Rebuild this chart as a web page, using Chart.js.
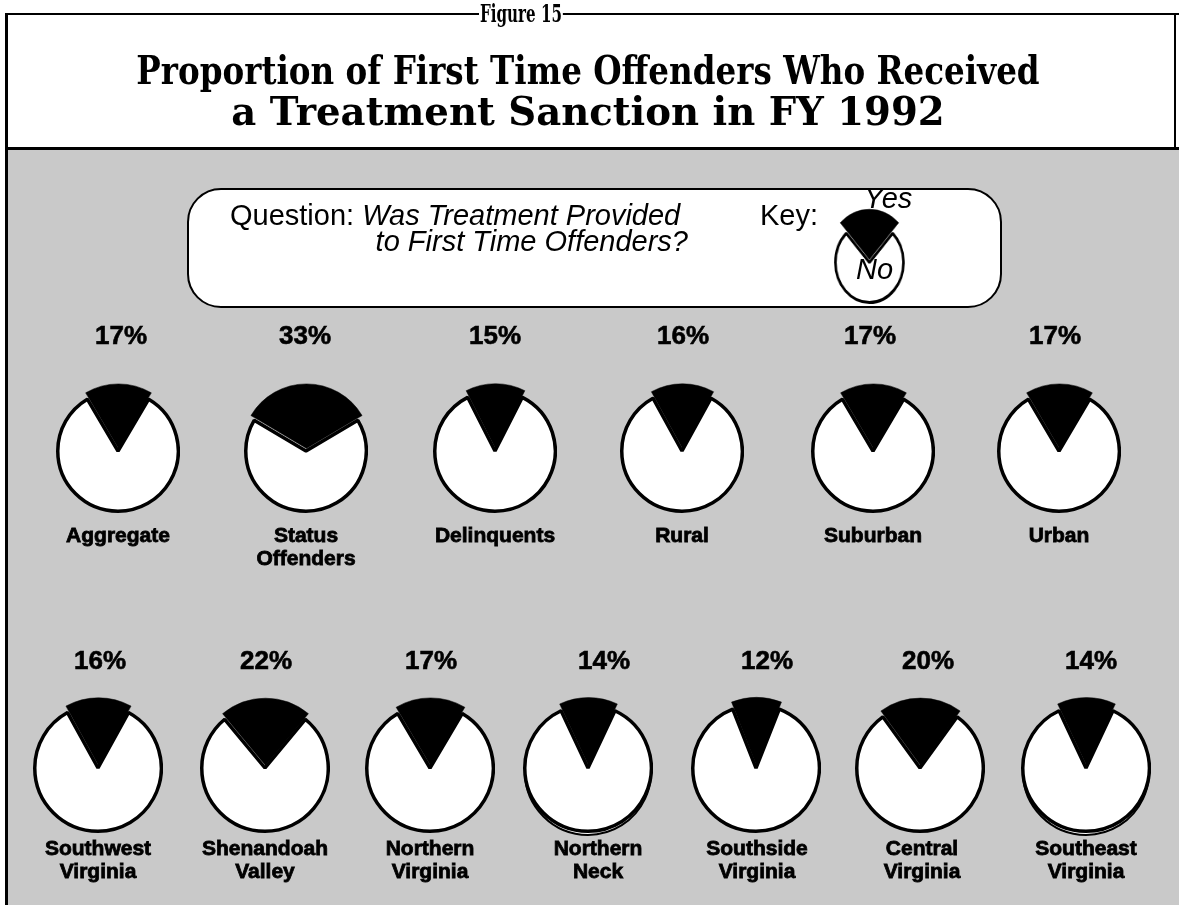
<!DOCTYPE html>
<html lang="en">
<head>
  <meta charset="UTF-8" />
  <title>Figure 15 - First Time Offenders Treatment Sanction</title>
  <script src="https://cdn.jsdelivr.net/npm/chart.js"></script>
  <style>
    body { margin: 0; background: #fff; }
    #page { position: relative; width: 1179px; height: 905px; overflow: hidden; background: #fff; }
    .abs { position: absolute; z-index: 5; }
    .line { position: absolute; background: #000; }
    .serif { font-family: "DejaVu Serif", "Liberation Serif", serif; font-weight: bold; white-space: nowrap; line-height: 1; }
    .sans { font-family: "Liberation Sans", Arial, sans-serif; white-space: nowrap; line-height: 1; font-size: 29px; }
    .lbl { font-family: "Liberation Sans", Arial, sans-serif; font-weight: bold; white-space: nowrap;
           line-height: 23px; text-align: center; color: #000; -webkit-text-stroke: 0.8px #000; }
    .pct { font-family: "Liberation Sans", Arial, sans-serif; font-weight: bold; white-space: nowrap;
           line-height: 1; font-size: 26px; -webkit-text-stroke: 0.6px #000; }
    #gray { position: absolute; left: 8px; top: 150px; right: 0; bottom: 0; background: #c9c9c9; }
    #qbox { position: absolute; left: 187px; top: 188px; width: 811px; height: 116px;
            border: 2.5px solid #000; border-radius: 34px; background: #fff; }
    #keyWrap { position: absolute; left: 0; top: 0; width: 1179px; height: 905px; transform-origin: 869px 262px;
               transform: scaleX(0.85); z-index: 2; }
  </style>
</head>
<body>
<div id="page">
  <!-- frame -->
  <div id="gray"></div>
  <div class="line" style="left:5px; top:13px; width:1174px; height:2px;"></div>
  <div class="line" style="left:5px; top:13px; width:3px; height:892px;"></div>
  <div class="line" style="left:1174px; top:13px; width:2px; height:136px;"></div>
  <div class="line" style="left:5px; top:147px; width:1174px; height:3px;"></div>

  <div class="abs serif fit" data-w="84" style="left:521px; top:1px; font-size:25px; background:#fff; padding:0 2px;">Figure 15</div>
  <div class="abs serif fit" data-w="903" style="left:588px; top:51px; font-size:39px;">Proportion of First Time Offenders Who Received</div>
  <div class="abs serif fit" data-w="713" style="left:588px; top:92px; font-size:39px;">a Treatment Sanction in FY 1992</div>

  <!-- question / key box -->
  <div id="qbox"></div>
  <div class="abs sans" style="left:230px; top:201px;">Question: <i>Was Treatment Provided</i></div>
  <div class="abs sans" style="right:491px; top:227px;"><i>to First Time Offenders?</i></div>
  <div class="abs sans" style="left:760px; top:201px;">Key:</div>
  <div class="abs sans" style="left:864px; top:184px;"><i>Yes</i></div>
  <div class="abs sans" style="left:856px; top:255px;"><i>No</i></div>
  <div id="keyWrap"></div>
</div>

<script>
  // values (percent that received treatment)
  const groupNames = [['Aggregate'], ['Status', 'Offenders'], ['Delinquents'], ['Rural'], ['Suburban'], ['Urban']];
  const groupYes = [17, 33, 15, 16, 17, 17];

  const regionNames = [['Southwest', 'Virginia'], ['Shenandoah', 'Valley'], ['Northern', 'Virginia'],
                       ['Northern', 'Neck'], ['Southside', 'Virginia'], ['Central', 'Virginia'], ['Southeast', 'Virginia']];
  const regionYes = [16, 22, 17, 14, 12, 20, 14];

  const keySample = [24, 76];
  const sliceLabels = ['Yes', 'No'];

  // layout
  const row1 = { x: [118, 306, 495, 682, 873, 1059], pctX: [121, 305, 495, 683, 870, 1055], y: 451, r: 60, pctY: 322, lblY: 523 };
  const row2 = { x: [98, 265, 430, 588, 756, 920, 1086], pctX: [100, 266, 431, 604, 767, 928, 1091],
                 lblX: [98, 265, 430, 598, 757, 922, 1086], y: 768, r: 63, pctY: 647, lblY: 836,
                 doubled: [false, false, false, true, false, false, true] };

  const page = document.getElementById('page');
  const clear = 'rgba(0,0,0,0)';

  // one Chart.js pie on its own canvas, centred on (cx, cy)
  function addChart(parent, cx, cy, radius, values, fills, strokes, widths, offsets) {
    const size = Math.ceil(2 * radius + Math.max(...widths) + Math.max(...offsets));
    const canvas = document.createElement('canvas');
    canvas.width = size;
    canvas.height = size;
    canvas.style.position = 'absolute';
    canvas.style.left = (cx - size / 2) + 'px';
    canvas.style.top = (cy - size / 2) + 'px';
    canvas.style.zIndex = 2;
    parent.appendChild(canvas);
    new Chart(canvas.getContext('2d'), {
      type: 'pie',
      data: {
        labels: sliceLabels,
        datasets: [{
          data: values,
          backgroundColor: fills,
          borderColor: strokes,
          borderWidth: widths,
          offset: offsets,
          hoverOffset: 0
        }]
      },
      options: {
        responsive: false,
        animation: false,
        events: [],
        rotation: -values[0] * 1.8,
        layout: { padding: 0 },
        plugins: { legend: { display: false }, tooltip: { enabled: false } }
      }
    });
  }

  // white disc with the "No" part outlined, then the black "Yes" wedge pulled out on top
  // (arc offset in Chart.js v4 moves a slice by offset / 4 pixels)
  function makePie(parent, cx, cy, r, yes, no, opts) {
    if (opts.doubled) {
      // printed pies with a second rim showing just below
      addChart(parent, cx, cy + 4, r, [yes, no], ['#fff', '#fff'], ['#000', '#000'], [2, 2], [0, 0]);
    }
    addChart(parent, cx, cy, r, [yes, no], ['#fff', '#fff'], [clear, '#000'], [0, opts.bw], [0, 0]);
    addChart(parent, cx, cy, r + opts.grow, [yes, no], ['#000', clear], ['#000', clear], [0.5, 0], [opts.off, 0]);
  }

  function addText(html, cls, x, y, size) {
    const d = document.createElement('div');
    d.className = 'abs ' + cls;
    d.style.left = x + 'px';
    d.style.top = y + 'px';
    if (size) d.style.fontSize = size + 'px';
    d.style.transform = 'translateX(-50%)';
    d.innerHTML = html;
    page.appendChild(d);
    return d;
  }

  groupYes.forEach((v, i) => {
    makePie(page, row1.x[i], row1.y, row1.r, v, 100 - v, { bw: 3.5, grow: 4, off: 12 });
    addText(v + '%', 'pct', row1.pctX[i], row1.pctY);
    addText(groupNames[i].join('<br>'), 'lbl', row1.x[i], row1.lblY, 21);
  });

  regionYes.forEach((v, i) => {
    makePie(page, row2.x[i], row2.y, row2.r, v, 100 - v, { bw: 3.5, grow: 4, off: 12, doubled: row2.doubled[i] });
    addText(v + '%', 'pct', row2.pctX[i], row2.pctY);
    addText(regionNames[i].join('<br>'), 'lbl', row2.lblX[i], row2.lblY, 21);
  });

  // key pie: slightly tall disc with a big wedge, as printed in the key
  makePie(document.getElementById('keyWrap'), 869, 262, 40, keySample[0], keySample[1], { bw: 3, grow: 10, off: 12 });

  // squeeze serif headings to the widths in the figure
  document.fonts.ready.then(() => {
    document.querySelectorAll('.fit').forEach(el => {
      const k = Number(el.dataset.w) / el.scrollWidth;
      el.style.transform = 'translateX(-50%) scaleX(' + k + ')';
    });
  });
</script>
</body>
</html>
